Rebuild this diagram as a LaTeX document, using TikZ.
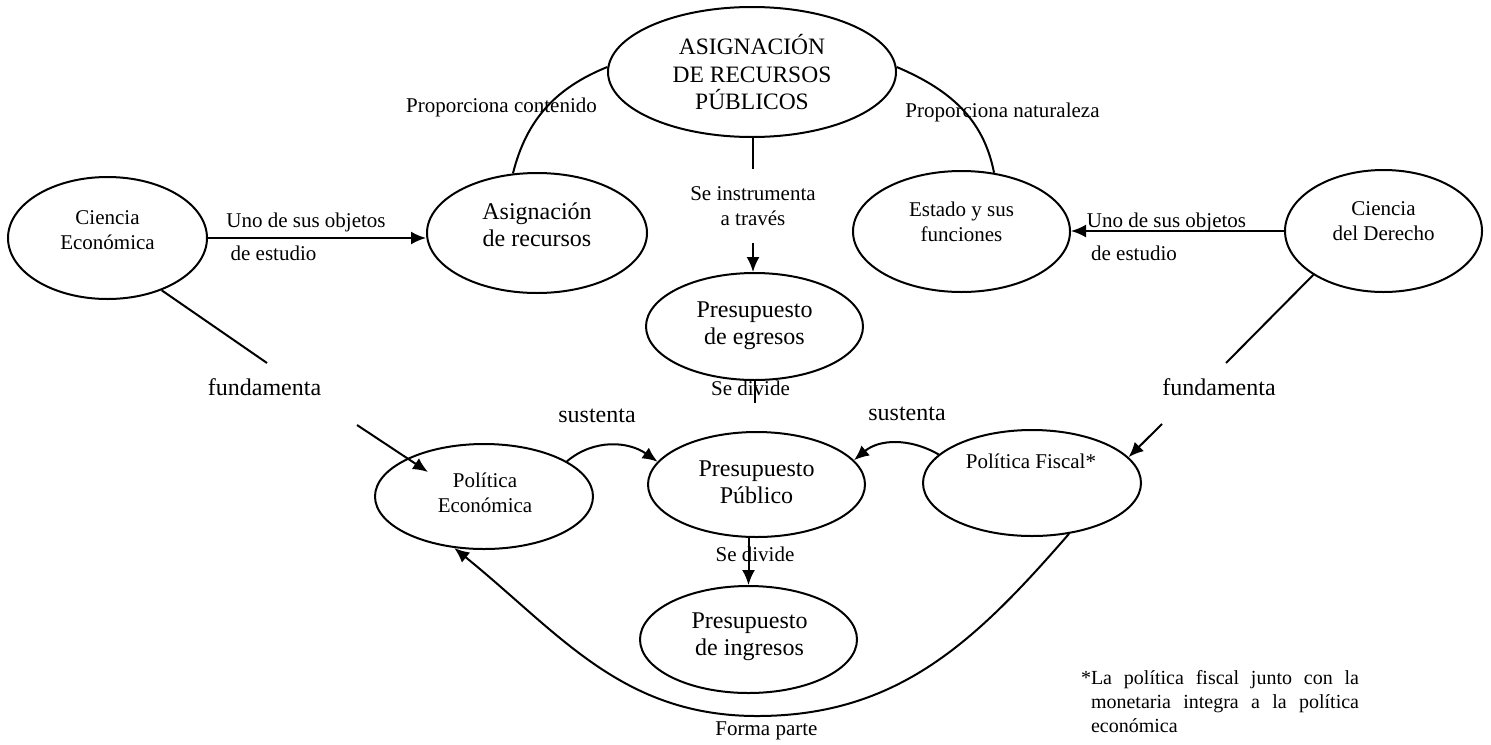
\documentclass[tikz,border=0pt]{standalone}
\usepackage{fontspec}
\setmainfont{Liberation Serif}
\usetikzlibrary{shapes.geometric,arrows.meta}

% font sizes used in the map
\newcommand\fntS{\fontsize{10.5}{12.5}\selectfont}
\newcommand\fntL{\fontsize{12}{13.5}\selectfont}
\newcommand\fntT{\fontsize{11.75}{13.75}\selectfont}
\newcommand\fntN{\fontsize{10}{12}\selectfont}

\begin{document}
\begin{tikzpicture}[x=0.5pt,y=-0.5pt,
  line width=1pt,
  oval/.style 2 args={draw, ellipse, inner sep=0pt, minimum width=#1pt, minimum height=#2pt},
  txt/.style={align=center, inner sep=0pt, font=\fntS},
  txtL/.style={txt, font=\fntL},
  lbl/.style={anchor=base, inner sep=0pt, font=\fntS},
  lblL/.style={lbl, font=\fntL},
  arr/.style={-{Latex[length=7.5pt,width=6.5pt]}},
]
\useasboundingbox (0,0) rectangle (1491,744);

% ---- concept ovals ----
\node[oval={99.5}{61}]    (ce)   at (107.5,238)   {};
\node[oval={110}{60}]     (asig) at (537,233)     {};
\node[oval={144}{65}]     (top)  at (752,72)      {};
\node[oval={108.5}{60.5}] (est)  at (961.5,231.5) {};
\node[oval={98.5}{61}]    (der)  at (1383.5,231)  {};
\node[oval={108.5}{53.5}] (egr)  at (754.5,326.5) {};
\node[oval={109}{52.5}]   (pe)   at (484,496.5)   {};
\node[oval={108.5}{52.5}] (pp)   at (756.5,484.5) {};
\node[oval={109}{53}]     (pf)   at (1032,483)    {};
\node[oval={108.5}{53.5}] (ing)  at (748.5,639.5) {};

% ---- oval texts ----
\node[txt]  (ceT)   at (107.5,230.5) {Ciencia\\Económica};
\node[txtL] (asigT) at (537,225.2)   {Asignación\\de recursos};
\node[txt, font=\fntT] (topT) at (752,72.5) {ASIGNACIÓN\\DE RECURSOS\\PÚBLICOS};
\node[txt]  (estT)  at (961.5,221.4) {Estado y sus\\funciones};
\node[txt]  (derT)  at (1383.5,221)  {Ciencia\\del Derecho};
\node[txtL] (egrT)  at (754.5,326.2) {Presupuesto\\de egresos};
\node[txt]  (peT)   at (485,492.4)   {Política\\Económica};
\node[txtL] (ppT)   at (756.5,482.6) {Presupuesto\\Público};
\node[lbl]  (pfT)   at (1031,468)    {Política Fiscal*};
\node[txtL] (ingT)  at (749.5,637.2) {Presupuesto\\de ingresos};

% ---- objects of study ----
\draw[arr] (ce.east) -- (ce.east -| asig.west);
\node[lbl] (uno1) at (306,227)   {Uno de sus objetos};
\node[lbl] (de1)  at (273.5,260) {de estudio};

\draw[arr] (der.west) -- (der.west -| est.east);
\node[lbl] (uno2) at (1166.5,227) {Uno de sus objetos};
\node[lbl] (de2)  at (1134,260)   {de estudio};

% ---- arcs to the central concept ----
\draw (asig.112) to[out=76,in=202] (top.178);
\node[lbl] (propC) at (501.5,112) {Proporciona contenido};

\draw (top.2) to[out=-23,in=101] (est.61);
\node[lbl] (propN) at (1002.5,117) {Proporciona naturaleza};

% ---- central column ----
\node[txt, inner ysep=8.15pt] (instr) at (753,206) {Se instrumenta\\a través};
\draw (top.south -| instr.north) -- (instr.north);
\draw[arr] (instr.south) -- (instr.south |- egr.north);

\coordinate (egrCut) at (754.5,403);
\draw (egr.south) -- (egrCut);
\node[lbl] (divU) at (750.5,395) {Se divide};

\draw[arr] (ing.north |- pp.south) -- (ing.north);
\node[lbl] (divL) at (755,561.7) {Se divide};

% ---- policies support the public budget ----
\draw[arr] (pe.23) to[out=40,in=145] (pp.167);
\node[lblL] (sus1) at (597,422) {sustenta};
\draw[arr] (pf.163) to[out=150,in=40] (pp.14);
\node[lblL] (sus2) at (907,420) {sustenta};

% ---- foundations ----
\coordinate (fL1) at (267,363);
\coordinate (fL2) at (357,425);
\coordinate (fLtip) at (428,472);
\draw (ce.-44) -- (fL1);
\draw[arr] (fL2) -- (fLtip);
\node[lblL] (fun1) at (264.5,395) {fundamenta};

\coordinate (fR1) at (1226,363);
\coordinate (fR2) at (1162,424);
\draw (der.212) -- (fR1);
\draw[arr] (fR2) -- (pf.15);
\node[lblL] (fun2) at (1219,395) {fundamenta};

% ---- fiscal policy is part of economic policy ----
\coordinate (fpLow) at (757,716);
\draw[arr] (pf.-54) to[out=229,in=0] (fpLow) to[out=180,in=-39] (pe.240);
\node[lbl] (forma) at (766.5,735) {Forma parte};

% ---- footnote ----
\node[anchor=north west, inner sep=0pt, text width=134pt, align=justify, font=\fntN]
  (note) at (1090,669)
  {\noindent\hyphenpenalty=10000 \llap{*}La política fiscal junto con la\linebreak
   monetaria integra a la política\linebreak económica};
\end{tikzpicture}
\end{document}
